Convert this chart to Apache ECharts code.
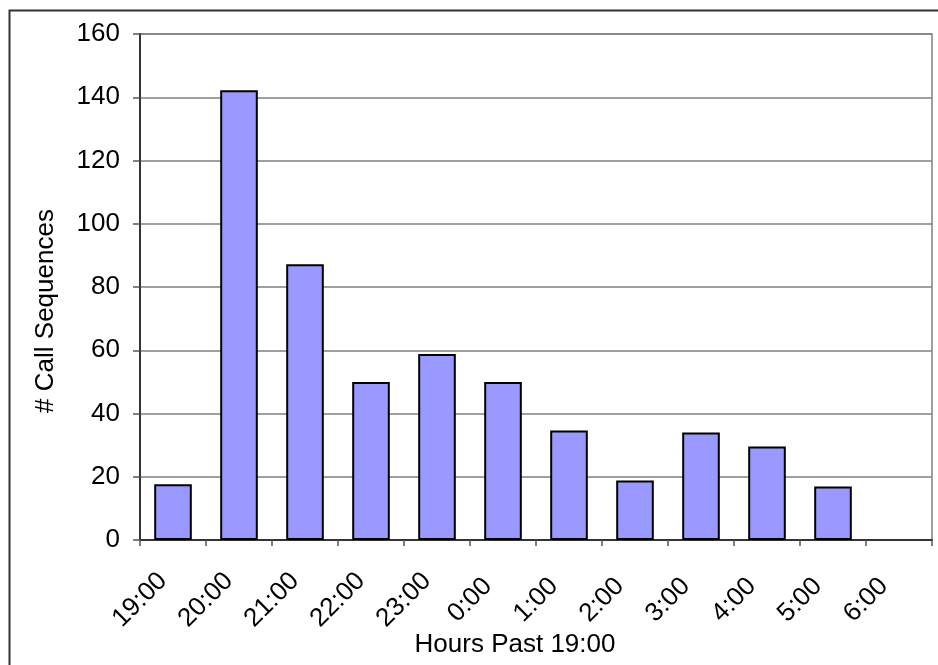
<!DOCTYPE html>
<html>
<head>
<meta charset="utf-8">
<script src="https://cdn.jsdelivr.net/npm/echarts@6/dist/echarts.min.js"></script>
<style>
html,body{margin:0;padding:0;background:#fff;}
#chart{width:938px;height:665px;}
</style>
</head>
<body>
<div id="chart"></div>
<script>
var categories = ['19:00','20:00','21:00','22:00','23:00','0:00','1:00','2:00','3:00','4:00','5:00','6:00'];
var callSequences = [17.6, 142.2, 87.2, 50, 58.8, 50, 34.6, 18.8, 34, 29.6, 16.9, 0];
var tickLabels = ['19:00','20:00','21:00','22:00','23:00','0:00','1:00','2:00','3:00','4:00','5:00','6:00'];
var yTicks = [0, 20, 40, 60, 80, 100, 120, 140, 160];
var yTitle = '# Call Sequences';
var xTitle = 'Hours Past 19:00';

var font = 'Liberation Sans, Arial, sans-serif';
var fs = 26;
var barData = callSequences.map(function (v) {
  return v === 0 ? {value: v, itemStyle: {borderWidth: 0}} : v;
});
var chart = echarts.init(document.getElementById('chart'), null, {renderer: 'canvas'});
chart.setOption({
  animation: false,
  backgroundColor: '#fff',
  grid: {left: 140, right: 6, top: 34, bottom: 125, show: true, borderColor: '#808080', borderWidth: 1.5, backgroundColor: 'transparent'},
  xAxis: [
    {
      type: 'category', data: categories, boundaryGap: true,
      axisLine: {show: false}, axisTick: {show: false}, axisLabel: {show: false}, splitLine: {show: false}
    },
    {
      type: 'value', min: 0, max: categories.length, interval: 1, position: 'bottom',
      axisLine: {show: true, onZero: false, lineStyle: {color: '#333', width: 2}},
      axisTick: {show: true, length: 6, lineStyle: {color: '#555', width: 1.5}},
      splitLine: {show: false},
      axisLabel: {
        show: true, rotate: 45, align: 'center', verticalAlign: 'middle', margin: 60,
        color: '#000', fontFamily: font, fontSize: fs,
        formatter: function (v) { return tickLabels[v] !== undefined ? tickLabels[v] : ''; }
      }
    }
  ],
  yAxis: {
    type: 'value', min: yTicks[0], max: yTicks[yTicks.length - 1], interval: 20,
    axisLine: {show: true, lineStyle: {color: '#333', width: 2}},
    axisTick: {show: true, length: 7, lineStyle: {color: '#555', width: 1.5}},
    splitLine: {show: true, lineStyle: {color: '#808080', width: 1.5}},
    axisLabel: {color: '#000', fontFamily: font, fontSize: fs, margin: 20}
  },
  series: [{
    type: 'bar', xAxisIndex: 0, data: barData, barWidth: '57%',
    itemStyle: {color: '#9999FF', borderColor: '#000', borderWidth: 2}
  }],
  graphic: [
    {type: 'rect', left: 7, top: 8, shape: {width: 1200, height: 1200}, style: {fill: 'none', stroke: '#333', lineWidth: 2}, z: 100},
    {type: 'text', x: 46, y: 311, rotation: Math.PI / 2, style: {text: yTitle, fontFamily: font, fontSize: fs, fill: '#000', textAlign: 'center', textVerticalAlign: 'middle'}},
    {type: 'text', x: 515, y: 645, style: {text: xTitle, fontFamily: font, fontSize: fs, fill: '#000', textAlign: 'center', textVerticalAlign: 'middle'}}
  ]
});
</script>
</body>
</html>
